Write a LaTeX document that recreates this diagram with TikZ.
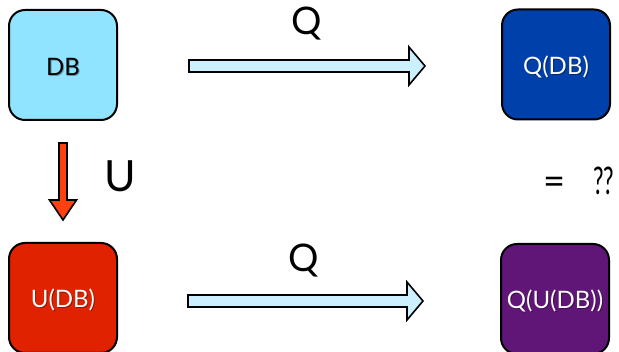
\documentclass[tikz,border=0pt]{standalone}
\usepackage{fontspec}
\setmainfont{Lato}
\usetikzlibrary{calc}

\definecolor{dbfill}{RGB}{145,228,255}
\definecolor{qdbfill}{RGB}{0,64,170}
\definecolor{udbfill}{RGB}{224,34,0}
\definecolor{qudbfill}{RGB}{96,22,118}
\definecolor{qarrow}{RGB}{204,240,255}
\definecolor{uarrow}{RGB}{255,64,16}

\tikzset{
  statebox/.style={draw=black, line width=2pt, rounded corners=16pt,
    minimum width=108pt, minimum height=110pt, inner sep=0pt},
  boxlabel/.style={font=\fontsize{24}{28}\selectfont},
  oplabel/.style={font=\fontsize{38}{42}\selectfont, text=black},
  arrowbody/.style={draw=black, line width=1.6pt, line join=miter},
}

% Block arrow: start, tip, shaft half-width, head half-width, head length, style
\newcommand\blockarrow[6]{%
  \path ($(#2)!#5!(#1)$) coordinate (hb);
  \draw[#6] ($(#1)!#3!90:(#2)$) -- ($(hb)!#3!-90:(#1)$) -- ($(hb)!#4!-90:(#1)$)
    -- (#2) -- ($(hb)!#4!90:(#1)$) -- ($(hb)!#3!90:(#1)$)
    -- ($(#1)!#3!-90:(#2)$) -- cycle;}

\begin{document}
\begin{tikzpicture}[x=1pt,y=-1pt]
  \useasboundingbox (0,0) rectangle (619,352);

  % the four database states
  \node[statebox, fill=dbfill]   (db)   at (63,65)   {};
  \node[statebox, fill=qdbfill]  (qdb)  at (556,64.5) {};
  \node[statebox, fill=udbfill]  (udb)  at (63,298)  {};
  \node[statebox, fill=qudbfill] (qudb) at (555,299) {};

  % box captions with a soft drop shadow
  \foreach \n/\t/\c in {db/DB/black, qdb/Q(DB)/white, udb/U(DB)/white, qudb/Q(U(DB))/white}{
    \node[boxlabel, text=black, opacity=0.35] at ($(\n.center)+(1,3.2)$) {\t};
    \node[boxlabel, text=\c] (\n-label) at ($(\n.center)+(0,2)$) {\t};
  }

  % operation arrows
  \coordinate (qa-start) at (189,66);
  \coordinate (qa-tip)   at (425,66);
  \coordinate (qb-start) at (188,301);
  \coordinate (qb-tip)   at (423,301);
  \coordinate (u-start)  at (63,143);
  \coordinate (u-tip)    at (63,220);

  \blockarrow{qa-start}{qa-tip}{6pt}{19pt}{16pt}{arrowbody, fill=qarrow}
  \blockarrow{qb-start}{qb-tip}{6pt}{19pt}{16pt}{arrowbody, fill=qarrow}
  \blockarrow{u-start}{u-tip}{4pt}{13.5pt}{20pt}{arrowbody, fill=uarrow}

  % operation labels
  \node[oplabel] (qa-label) at (307,24)  {Q};
  \node[oplabel] (qb-label) at (304,261) {Q};
  \node[oplabel, font=\fontsize{43}{46}\selectfont] (u-label) at (120,176) {U};
  \node[oplabel, anchor=west, inner sep=0pt] (eq) at (543,181)
    {=\hspace{28pt}\scalebox{0.62}[1]{??}};
\end{tikzpicture}
\end{document}
